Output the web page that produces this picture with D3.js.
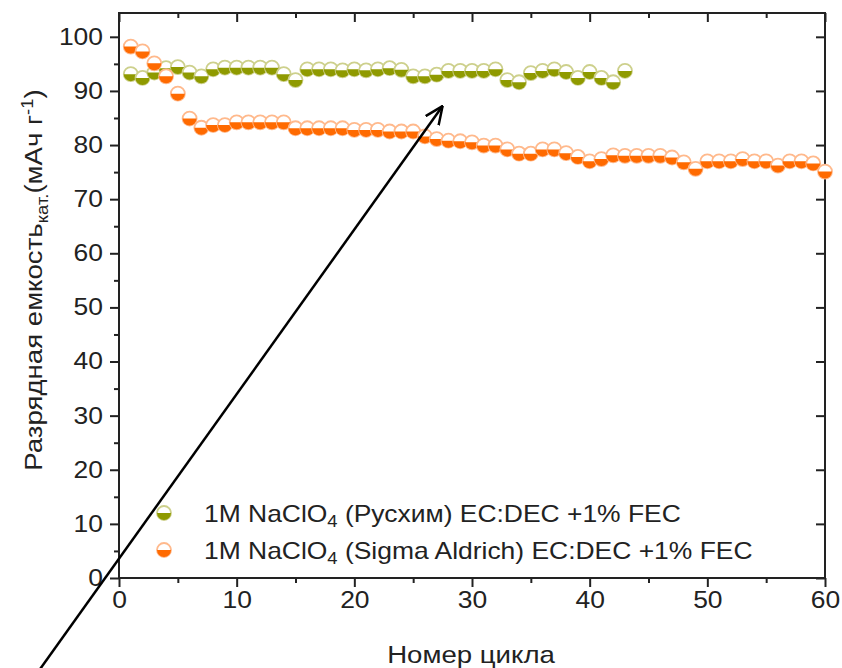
<!DOCTYPE html>
<html>
<head>
<meta charset="utf-8">
<script src="https://cdn.jsdelivr.net/npm/d3@7/dist/d3.min.js"></script>
<style>
  body { margin: 0; background: #fff; }
  svg { display: block; }
</style>
</head>
<body>
<div id="chart"></div>
<script>
// cycle numbers and discharge capacity (mAh/g)
const cyclesRus = [1,2,3,4,5,6,7,8,9,10,11,12,13,14,15,16,17,18,19,20,21,22,23,24,25,26,27,28,29,30,31,32,33,34,35,36,37,38,39,40,41,42,43];
const capRus = [93.1,92.4,93.4,94.2,94.4,93.4,92.7,94.0,94.3,94.3,94.3,94.3,94.3,93.1,92.0,94.0,94.0,94.0,93.8,94.0,
                93.8,94.0,94.2,93.9,92.7,92.7,93.0,93.7,93.7,93.7,93.7,94.0,92.0,91.6,93.3,93.7,94.0,93.5,92.4,93.5,
                92.4,91.6,93.7];
const cyclesSigma = [1,2,3,4,5,6,7,8,9,10,11,12,13,14,15,16,17,18,19,20,21,22,23,24,25,26,27,28,29,30,
                     31,32,33,34,35,36,37,38,39,40,41,42,43,44,45,46,47,48,49,50,51,52,53,54,55,56,57,58,59,60];
const capSigma = [98.2,97.3,95.1,92.7,89.5,84.9,83.2,83.7,83.7,84.2,84.2,84.2,84.2,84.2,83.1,83.1,83.1,83.1,83.1,82.8,
                  82.8,82.8,82.5,82.5,82.5,81.6,81.1,80.8,80.7,80.5,79.9,79.9,79.2,78.4,78.4,79.2,79.2,78.5,77.8,77.0,
                  77.4,78.1,78.0,78.0,78.0,78.0,77.7,76.8,75.6,77.0,77.0,77.0,77.4,77.0,77.0,76.2,77.0,77.0,76.6,75.1];

const xTicks = [0,10,20,30,40,50,60];
const xMinor = [5,15,25,35,45,55];
const yTicks = [0,10,20,30,40,50,60,70,80,90,100];
const yMinor = [5,15,25,35,45,55,65,75,85,95];

const seriesNames = ["Русхим", "Sigma Aldrich"];
const seriesColors = ["#8f9a00", "#ff6a00"];
const seriesLight = ["#cdd08c", "#ffb98c"];

// annotation arrow, in data units (tail -> head)
const arrowFrom = [-6.7, -16.8];
const arrowTo = [27.5, 87.2];

const width = 842, height = 668;
const margin = {top: 13, right: 17, bottom: 90, left: 119};
const sx = 1.15; // the source figure is stretched horizontally
const font = "Arial, 'Liberation Sans', sans-serif";
const ink = "#222";

const svg = d3.select("#chart").append("svg")
    .attr("width", width)
    .attr("height", height)
    .attr("viewBox", [0, 0, width, height])
    .style("font-family", font);

const x = d3.scaleLinear().domain([0, 60]).range([margin.left, width - margin.right]);
const y = d3.scaleLinear().domain([0, 104.4]).range([height - margin.bottom, margin.top]);

function stretchLabels(g) {
    g.selectAll(".tick text").each(function () {
        const t = d3.select(this);
        const tx = +t.attr("x") || 0;
        t.attr("x", tx / sx).attr("transform", `scale(${sx},1)`);
    });
}

// minor ticks first, so majors sit on top
svg.append("g")
    .attr("transform", `translate(0,${y(0)})`)
    .call(d3.axisBottom(x).tickValues(xMinor).tickSize(5).tickFormat(""))
    .call(g => g.select(".domain").remove());
svg.append("g")
    .attr("transform", `translate(${x(0)},0)`)
    .call(d3.axisLeft(y).tickValues(yMinor).tickSize(5).tickFormat(""))
    .call(g => g.select(".domain").remove());
svg.append("g")
    .attr("transform", `translate(0,${y.range()[1]})`)
    .call(d3.axisBottom(x).tickValues(xMinor).tickSize(5).tickFormat(""))
    .call(g => g.select(".domain").remove());
svg.append("g")
    .attr("transform", `translate(0,${y.range()[1]})`)
    .call(d3.axisBottom(x).tickValues(xTicks).tickSize(9).tickFormat(""))
    .call(g => g.select(".domain").remove());
svg.append("g")
    .attr("transform", `translate(${x.range()[1]},0)`)
    .call(d3.axisLeft(y).tickValues(yTicks).tickSize(9).tickFormat(""))
    .call(g => g.select(".domain").remove());

const xAxis = svg.append("g")
    .attr("transform", `translate(0,${y(0)})`)
    .call(d3.axisBottom(x).tickValues(xTicks).tickSize(9).tickPadding(5))
    .call(g => g.select(".domain").remove())
    .call(stretchLabels);

const yAxis = svg.append("g")
    .attr("transform", `translate(${x(0)},0)`)
    .call(d3.axisLeft(y).tickValues(yTicks).tickSize(9).tickPadding(7))
    .call(g => g.select(".domain").remove())
    .call(stretchLabels);

svg.selectAll(".tick line").attr("stroke", ink).attr("stroke-width", 2);
svg.selectAll(".tick text").attr("fill", ink).style("font-size", "23px").style("font-family", font);

// frame
svg.append("rect")
    .attr("x", x(0)).attr("y", y.range()[1])
    .attr("width", x(60) - x(0)).attr("height", y(0) - y.range()[1])
    .attr("fill", "none").attr("stroke", ink).attr("stroke-width", 2);

// half-filled markers
const r = 7;
const halfPath = `M${-r},0A${r},${r} 0 0 0 ${r},0Z`;
function drawMarkers(g, cx, cy, k) {
    g.append("circle")
        .attr("cx", cx).attr("cy", cy).attr("r", r)
        .attr("fill", "#fff").attr("stroke", seriesLight[k]).attr("stroke-width", 1.8);
    g.append("path")
        .attr("transform", `translate(${cx},${cy})`)
        .attr("d", halfPath)
        .attr("fill", seriesColors[k]);
}

const series = [
    {cycles: cyclesRus, cap: capRus},
    {cycles: cyclesSigma, cap: capSigma}
];

series.forEach((s, k) => {
    const g = svg.append("g").attr("class", "series-" + k);
    s.cycles.forEach((c, i) => {
        drawMarkers(g.append("g"), x(c), y(s.cap[i]), k);
    });
});

// legend
const legend = svg.append("g").attr("font-size", 23).attr("fill", ink);
const legendRows = [{cy: 513, base: 522}, {cy: 550, base: 559}];
seriesNames.forEach((name, k) => {
    drawMarkers(legend, 164, legendRows[k].cy, k);
    const t = legend.append("text")
        .attr("x", 204 / sx)
        .attr("y", legendRows[k].base)
        .attr("transform", `scale(${sx},1)`);
    t.append("tspan").text("1M NaClO");
    t.append("tspan").attr("font-size", 16).attr("dy", 5).text("4");
    t.append("tspan").attr("dy", -5).text(` (${name}) EC:DEC +1% FEC`);
});

// axis titles
svg.append("text")
    .attr("transform", `translate(${(x(0) + x(60)) / 2 - 1},663) scale(${sx},1)`)
    .attr("text-anchor", "middle")
    .attr("font-size", 24)
    .attr("fill", ink)
    .text("Номер цикла");

const yTitle = svg.append("text")
    .attr("transform", `translate(42,280) rotate(-90) scale(${sx},1)`)
    .attr("text-anchor", "middle")
    .attr("font-size", 24)
    .attr("fill", ink);
yTitle.append("tspan").text("Разрядная емкость");
yTitle.append("tspan").attr("font-size", 16).attr("dy", 6).text("кат.");
yTitle.append("tspan").attr("dy", -6).text("(мАч г");
yTitle.append("tspan").attr("font-size", 16).attr("dy", -9).text("-1");
yTitle.append("tspan").attr("dy", 9).text(")");

// annotation arrow
svg.append("defs").append("marker")
    .attr("id", "head")
    .attr("viewBox", "0 0 10 10")
    .attr("refX", 9.5).attr("refY", 5)
    .attr("markerWidth", 19).attr("markerHeight", 19)
    .attr("orient", "auto")
    .attr("markerUnits", "userSpaceOnUse")
    .append("path")
    .attr("d", "M0,0.8L9.5,5L0,9.2")
    .attr("fill", "none").attr("stroke", "#000").attr("stroke-width", 1.3)
    .attr("stroke-linejoin", "miter");

svg.append("line")
    .attr("x1", x(arrowFrom[0])).attr("y1", y(arrowFrom[1]))
    .attr("x2", x(arrowTo[0])).attr("y2", y(arrowTo[1]))
    .attr("stroke", "#000").attr("stroke-width", 2.5)
    .attr("marker-end", "url(#head)");
</script>
</body>
</html>
